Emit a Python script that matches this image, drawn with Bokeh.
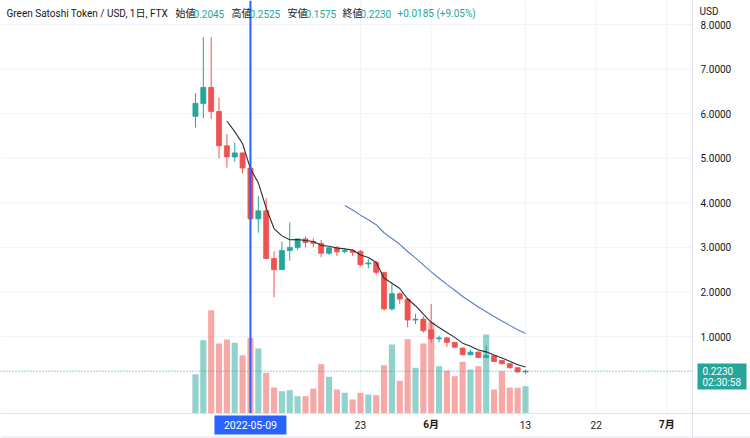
import pandas as pd
from bokeh.plotting import figure
from bokeh.models import Range1d, Span, Label, ColumnDataSource
from bokeh.core.properties import value
from bokeh.embed import file_html
from bokeh.resources import INLINE

# ---------------- data ----------------
dates = ["2022-05-02", "2022-05-03", "2022-05-04", "2022-05-05", "2022-05-06", "2022-05-07",
         "2022-05-08", "2022-05-09", "2022-05-10", "2022-05-11", "2022-05-12", "2022-05-13",
         "2022-05-14", "2022-05-15", "2022-05-16", "2022-05-17", "2022-05-18", "2022-05-19",
         "2022-05-20", "2022-05-21", "2022-05-22", "2022-05-23", "2022-05-24", "2022-05-25",
         "2022-05-26", "2022-05-27", "2022-05-28", "2022-05-29", "2022-05-30", "2022-05-31",
         "2022-06-01", "2022-06-02", "2022-06-03", "2022-06-04", "2022-06-05", "2022-06-06",
         "2022-06-07", "2022-06-08", "2022-06-09", "2022-06-10", "2022-06-11", "2022-06-12",
         "2022-06-13"]
opens = [5.94, 6.23, 6.59, 6.05, 5.28, 5.03, 5.12, 4.78, 3.64, 3.82, 2.75, 2.50, 2.93, 3.00,
         3.19, 3.13, 3.09, 2.87, 3.00, 2.91, 2.93, 2.91, 2.63, 2.66, 2.44, 1.62, 1.96, 1.84,
         1.37, 1.39, 1.15, 0.95, 0.97, 0.87, 0.74, 0.59, 0.65, 0.53, 0.57, 0.46, 0.39, 0.30,
         0.2045]
highs = [6.46, 7.72, 7.72, 6.36, 5.54, 5.35, 5.13, 4.80, 4.15, 4.10, 2.91, 3.13, 3.56, 3.20,
         3.24, 3.20, 3.17, 3.00, 3.03, 2.97, 2.96, 2.94, 2.74, 2.70, 2.44, 2.18, 1.99, 1.87,
         1.51, 1.45, 1.73, 1.02, 0.98, 0.87, 0.76, 0.70, 0.67, 0.80, 0.58, 0.47, 0.40, 0.31,
         0.2525]
lows = [5.69, 5.90, 5.88, 5.00, 4.79, 4.92, 4.66, 3.62, 3.33, 2.74, 1.88, 2.50, 2.70, 2.94,
        3.00, 3.00, 2.78, 2.83, 2.81, 2.87, 2.81, 2.57, 2.53, 2.39, 1.58, 1.58, 1.73, 1.21,
        1.28, 1.09, 0.87, 0.87, 0.77, 0.74, 0.58, 0.58, 0.52, 0.52, 0.43, 0.37, 0.28, 0.19,
        0.1575]
closes = [6.23, 6.59, 6.05, 5.28, 5.03, 5.12, 4.78, 3.64, 3.82, 2.75, 2.50, 2.93, 3.00, 3.19,
          3.11, 3.09, 2.87, 2.99, 2.90, 2.93, 2.89, 2.61, 2.65, 2.44, 1.62, 1.96, 1.84, 1.37,
          1.39, 1.13, 0.95, 0.97, 0.87, 0.76, 0.59, 0.65, 0.53, 0.57, 0.44, 0.39, 0.30, 0.2045,
          0.2230]
volumes = [3.93, 7.33, 10.33, 7.00, 7.40, 7.07, 5.83, 7.57, 6.50, 4.07, 2.60, 2.23, 2.33, 1.73,
           1.73, 2.50, 4.93, 3.67, 2.40, 2.07, 1.40, 2.07, 1.90, 1.83, 4.83, 6.90, 3.27, 7.43,
           4.57, 7.00, 9.13, 4.73, 4.27, 3.73, 5.17, 4.40, 4.73, 7.90, 2.40, 4.23, 2.60, 2.57,
           2.73]
ma_fast_start = "2022-05-06"
ma_fast = [5.836, 5.597, 5.325, 4.763, 4.449, 3.883, 3.422, 3.258, 3.172, 3.178, 3.155, 3.133,
           3.045, 3.027, 2.985, 2.967, 2.941, 2.831, 2.771, 2.661, 2.314, 2.196, 2.077, 1.841,
           1.691, 1.504, 1.319, 1.203, 1.092, 0.981, 0.851, 0.784, 0.699, 0.656, 0.584, 0.519,
           0.446, 0.366, 0.318]
ma_slow_start = "2022-05-21"
ma_slow = [3.940, 3.840, 3.723, 3.621, 3.508, 3.328, 3.198, 3.069, 2.907, 2.763, 2.607, 2.449,
           2.308, 2.171, 2.037, 1.899, 1.780, 1.661, 1.557, 1.451, 1.350, 1.250, 1.150, 1.070]
price_ticks = [1, 2, 3, 4, 5, 6, 7, 8]
time_tick_dates = ["2022-05-23", "2022-06-01", "2022-06-13", "2022-06-22", "2022-07-01"]
time_tick_labels = ["23", "6月", "13", "22", "7月"]
time_tick_bold = [False, True, False, False, True]
marker_date = "2022-05-09"
countdown = "02:30:58"

# ---------------- layout (pixels) ----------------
W, H = 750, 438
PLOT_RIGHT = 692      # price scale starts here
PLOT_BOTTOM = 413     # time scale starts here
X0 = -23.81           # day value at the left edge
PX_PER_DAY = 7.858
Y_TOP = 8.539         # price at the top edge
PX_PER_UNIT = 44.571
VOL_PX = 10.0         # pixels per volume unit


def px_x(px):
    return X0 + px / PX_PER_DAY


def px_y(py):
    return Y_TOP - py / PX_PER_UNIT


ORIGIN = pd.Timestamp("2022-05-01")


def day(d):
    return (pd.Timestamp(d) - ORIGIN).days


UP = "#26a69a"
DOWN = "#ef5350"
TXT = "#131722"
GRID = "#f0f3fa"
BORDER = "#e0e3eb"
FONT = "Roboto, 'Noto Sans CJK JP', sans-serif"

xs = [day(d) for d in dates]
colors = [UP if c >= o else DOWN for o, c in zip(opens, closes)]
src = ColumnDataSource(dict(
    x=xs, high=highs, low=lows, vol=volumes,
    top=[max(o, c) for o, c in zip(opens, closes)],
    bottom=[min(o, c) for o, c in zip(opens, closes)],
    color=colors,
))

p = figure(width=W, height=H, output_backend="svg", toolbar_location=None,
           x_range=Range1d(px_x(0), px_x(W)), y_range=Range1d(px_y(H), px_y(0)),
           x_axis_location=None, y_axis_location=None, min_border=0)
p.outline_line_color = None
p.xgrid.visible = False
p.ygrid.visible = False
p.background_fill_color = "white"
p.border_fill_color = "white"
p.extra_y_ranges = {"vol": Range1d(-(H - PLOT_BOTTOM) / VOL_PX, PLOT_BOTTOM / VOL_PX)}

xl, xr = px_x(0), px_x(PLOT_RIGHT)
yb, yt = px_y(PLOT_BOTTOM), px_y(0)
tick_x = [day(d) for d in time_tick_dates]

# grid
p.segment(x0=[xl] * len(price_ticks), y0=price_ticks, x1=[xr] * len(price_ticks), y1=price_ticks,
          line_color=GRID, line_width=1)
p.segment(x0=tick_x, y0=[yb] * len(tick_x), x1=tick_x, y1=[yt] * len(tick_x),
          line_color=GRID, line_width=1)

# volume
p.vbar(x="x", top="vol", bottom=0, width=0.78, fill_color="color", fill_alpha=0.5,
       line_color=None, source=src, y_range_name="vol")

# candles
p.segment(x0="x", y0="low", x1="x", y1="high", line_color="color", line_width=1, source=src)
p.vbar(x="x", top="top", bottom="bottom", width=0.64, fill_color="color",
       line_color="color", line_width=0.8, source=src)

# moving averages
i_fast = dates.index(ma_fast_start)
i_slow = dates.index(ma_slow_start)
p.line(xs[i_fast:], ma_fast, line_color="#2a2e39", line_width=1.1)
p.line(xs[i_slow:], ma_slow, line_color="#5a7bd0", line_width=1.1)

# last price line (dotted)
p.segment(x0=[xl], y0=[closes[-1]], x1=[xr], y1=[closes[-1]], line_color=UP,
          line_dash="1 2", line_width=1)

# scale borders
p.add_layout(Span(location=xr, dimension="height", line_color=BORDER, line_width=1))
p.add_layout(Span(location=yb, dimension="width", line_color=BORDER, line_width=1))
p.add_layout(Span(location=px_y(H - 1.5), dimension="width", line_color=BORDER, line_width=1))

# price scale labels
p.text(x=[px_x(PLOT_RIGHT + 8)] * len(price_ticks), y=price_ticks,
       text=[f"{t:.4f}" for t in price_ticks], text_font=value(FONT),
       text_font_size=value("10px"), text_color=TXT, text_align="left",
       text_baseline="middle")

# time scale labels
p.text(x=tick_x, y=[px_y(424)] * len(tick_x), text=time_tick_labels,
       text_font=value(FONT), text_font_size=value("10px"), text_color=TXT,
       text_font_style=["bold" if b else "normal" for b in time_tick_bold],
       text_align="center", text_baseline="middle")

# header
chg = closes[-1] - closes[-2]
pct = chg / closes[-2] * 100
header = [
    ("Green Satoshi Token / USD, 1日, FTX", 6, TXT),
    ("始値", 175, TXT), (f"{opens[-1]:.4f}", 193, UP),
    ("高値", 231, TXT), (f"{highs[-1]:.4f}", 249, UP),
    ("安値", 287, TXT), (f"{lows[-1]:.4f}", 305, UP),
    ("終値", 342, TXT), (f"{closes[-1]:.4f}", 360, UP),
    (f"{chg:+.4f} ({pct:+.2f}%)", 397, UP),
]
for t, x, c in header:
    p.add_layout(Label(x=x, y=H - 13, x_units="screen", y_units="screen", text=t,
                       text_font=FONT, text_font_size="10px", text_color=c,
                       text_baseline="middle", text_align="left"))

# marker vertical line
mx = day(marker_date)
p.segment(x0=[mx], y0=[yb], x1=[mx], y1=[yt], line_color="#2962ff", line_width=2)

# USD label
p.add_layout(Label(x=PLOT_RIGHT + 7, y=H - 11, x_units="screen", y_units="screen", text="USD",
                   text_font=FONT, text_font_size="10px", text_color=TXT,
                   text_baseline="middle", text_align="left"))

# last price box
p.quad(left=[px_x(PLOT_RIGHT + 5)], right=[px_x(746)], top=[px_y(363)], bottom=[px_y(389)],
       fill_color=UP, line_color=None)
p.add_layout(Label(x=PLOT_RIGHT + 10, y=H - 370.5, x_units="screen", y_units="screen",
                   text=f"{closes[-1]:.4f}", text_font=FONT, text_font_size="10px",
                   text_color="white", text_baseline="middle", text_align="left"))
p.add_layout(Label(x=PLOT_RIGHT + 10, y=H - 381.5, x_units="screen", y_units="screen",
                   text=countdown, text_font=FONT, text_font_size="10px",
                   text_color="white", text_baseline="middle", text_align="left"))

# date marker box
p.quad(left=[mx - 36 / PX_PER_DAY], right=[mx + 36 / PX_PER_DAY], top=[px_y(415)],
       bottom=[px_y(434)], fill_color="#2962ff", line_color=None)
p.add_layout(Label(x=mx, y=H - 424.5, y_units="screen", text=marker_date,
                   text_font=FONT, text_font_size="10.5px", text_color="white",
                   text_baseline="middle", text_align="center"))

open("out.html", "w").write(file_html(p, INLINE))
